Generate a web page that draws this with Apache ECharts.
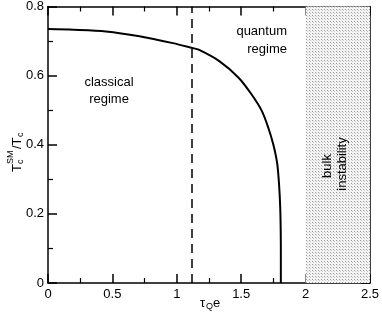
<!DOCTYPE html>
<html><head><meta charset="utf-8">
<script src="https://cdn.jsdelivr.net/npm/echarts@6/dist/echarts.min.js"></script>
<style>html,body{margin:0;padding:0;background:#fff}#c{width:382px;height:316px}</style>
</head><body><div id="c"></div>
<script>
var tauQe = [0, 0.2, 0.45, 0.71, 0.97, 1.12, 1.17, 1.33, 1.48, 1.58, 1.66, 1.71, 1.75, 1.78, 1.795, 1.803, 1.807, 1.808, 1.808];
var ratio = [0.735, 0.733, 0.728, 0.714, 0.694, 0.680, 0.675, 0.642, 0.594, 0.546, 0.498, 0.450, 0.400, 0.345, 0.280, 0.220, 0.150, 0.080, 0];
var dashedX = 1.12;
var instabilityRange = [2, 2.5];
var xTicks = [0, 2.5, 0.5];
var yTicks = [0, 0.8, 0.2];

var FONT = 'Liberation Sans, Arial, sans-serif';
var pc = document.createElement('canvas');
pc.width = 3; pc.height = 3;
var g = pc.getContext('2d');
g.fillStyle = '#f4f4f4'; g.fillRect(0,0,3,3);
g.fillStyle = '#9a9a9a'; g.fillRect(0,0,1,1);
g.fillStyle = '#c8c8c8'; g.fillRect(1,1,1,1);

var chart = echarts.init(document.getElementById('c'), null, {renderer:'canvas'});
var lineData = tauQe.map(function(x,i){return [x, ratio[i]];});
function xAx(pos, show){
  return {type:'value', position:pos, min:xTicks[0], max:xTicks[1], interval:xTicks[2],
    axisLine:{show:true, onZero:false, lineStyle:{color:'#000', width:1.5}},
    axisTick:{show:true, inside:true, length:9, lineStyle:{color:'#000', width:1.5}},
    minorTick:{show:true, splitNumber:2, length:5, lineStyle:{color:'#000', width:1.2}},
    splitLine:{show:false},
    axisLabel:{show:show, color:'#000', fontFamily:FONT, fontSize:13, margin:5,
      formatter:function(v){return String(v);}}};
}
function yAx(pos, show){
  return {type:'value', position:pos, min:yTicks[0], max:yTicks[1], interval:yTicks[2],
    axisLine:{show:true, onZero:false, lineStyle:{color:'#000', width:1.5}},
    axisTick:{show:true, inside:true, length:9, lineStyle:{color:'#000', width:1.5}},
    minorTick:{show:true, splitNumber:2, length:5, lineStyle:{color:'#000', width:1.2}},
    splitLine:{show:false},
    axisLabel:{show:show, color:'#000', fontFamily:FONT, fontSize:13, margin:4,
      formatter:function(v){return String(Math.round(v*10)/10);}}};
}
function st(t, fs, align){
  return {text:t, fill:'#000', font:fs+'px '+FONT, textAlign:align||'left', textVerticalAlign:'middle'};
}
function txt(t, x, y, fs, align){
  return {type:'text', z:100, x:x, y:y, style:st(t, fs, align||'center')};
}
chart.setOption({
  animation:false,
  grid:{left:48, right:10, top:5, bottom:33},
  xAxis:[xAx('bottom', true), xAx('top', false)],
  yAxis:[yAx('left', true), yAx('right', false)],
  series:[{
    type:'line', data:lineData, smooth:0.3, symbol:'none',
    lineStyle:{color:'#000', width:2}, z:5,
    markArea:{silent:true, itemStyle:{color:{image:pc, repeat:'repeat'}},
      data:[[{xAxis:instabilityRange[0], yAxis:yTicks[0]},{xAxis:instabilityRange[1], yAxis:yTicks[1]}]]},
    markLine:{silent:true, symbol:'none', label:{show:false},
      lineStyle:{color:'#000', width:1.5, type:[9,6]},
      data:[[{coord:[dashedX, yTicks[0]]},{coord:[dashedX, yTicks[1]]}]]}
  }],
  graphic:[
    txt('classical', 109, 82, 13), txt('regime', 109, 99, 13),
    txt('quantum', 287, 31, 13, 'right'), txt('regime', 287, 49, 13, 'right'),
    {type:'group', z:100, x:327, y:166, rotation:Math.PI/2, children:[
      {type:'text', z:100, x:0, y:0, style:st('bulk', 13, 'center')}]},
    {type:'group', z:100, x:342, y:164, rotation:Math.PI/2, children:[
      {type:'text', z:100, x:0, y:0, style:st('instability', 13, 'center')}]},
    {type:'group', z:100, x:17, y:172, rotation:Math.PI/2, children:[
      {type:'text', z:100, x:0, y:0, style:st('T', 13)},
      {type:'text', z:100, x:8, y:4, style:st('c', 9)},
      {type:'text', z:100, x:8, y:-6, style:st('SM', 9)},
      {type:'text', z:100, x:23, y:0, style:st('/T', 13)},
      {type:'text', z:100, x:35, y:4, style:st('c', 9)}
    ]},
    {type:'group', z:100, x:200, y:303, children:[
      {type:'text', z:100, x:0, y:0, style:st('τ', 13)},
      {type:'text', z:100, x:6, y:4, style:st('Q', 9)},
      {type:'text', z:100, x:13, y:0, style:st('e', 13)}
    ]}
  ]
});
</script></body></html>
